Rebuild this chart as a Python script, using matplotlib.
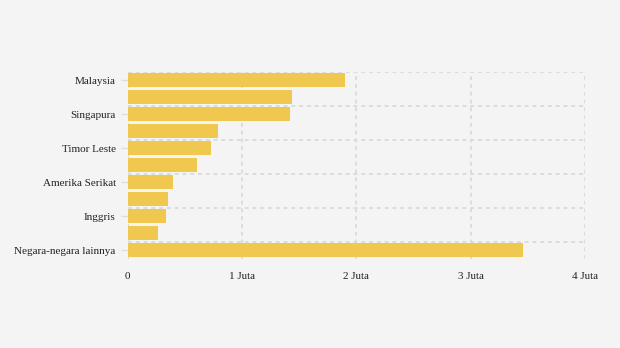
import matplotlib.pyplot as plt
import numpy as np

# Negara asal wisatawan (nilai dalam juta)
negara = ['Malaysia', 'Australia', 'Singapura', 'Tiongkok', 'Timor Leste', 'India',
          'Amerika Serikat', 'Jepang', 'Inggris', 'Korea Selatan', 'Negara-negara lainnya']
jumlah = [1.90, 1.44, 1.42, 0.79, 0.73, 0.61, 0.40, 0.35, 0.34, 0.27, 3.46]
x_ticks = [0, 1, 2, 3, 4]
x_labels = ['0', '1 Juta', '2 Juta', '3 Juta', '4 Juta']

bg = '#f4f4f4'
bar_color = '#f1c84f'
grid_color = '#dcdcdc'

fig = plt.figure(figsize=(6.2, 3.48), dpi=100, facecolor=bg)
ax = fig.add_axes([127.5 / 620, 1 - 258.5 / 348, (585 - 127.5) / 620, (258.5 - 71.5) / 348])
ax.set_facecolor(bg)

y = np.arange(len(negara))
ax.barh(y, jumlah, height=0.82, color=bar_color, zorder=2)

ax.set_xlim(0, 4)
ax.set_ylim(len(negara) - 0.5, -0.5)

# garis bantu
for xv in x_ticks:
    ax.axvline(xv, color=grid_color, lw=1.4, ls=(0, (2, 2)), zorder=1)
for yv in np.arange(-0.5, len(negara) - 1, 2):
    ax.axhline(yv, color=grid_color, lw=1.4, ls=(0, (2, 2)), zorder=1)

for s in ax.spines.values():
    s.set_visible(False)

ax.set_yticks(y[::2])
ax.set_yticklabels(negara[::2], family='Liberation Serif', fontsize=8, color='#222222')
ax.tick_params(axis='y', length=5, color='#dddddd', width=1, pad=3.5)

ax.set_xticks(x_ticks)
ax.set_xticklabels(x_labels, family='Liberation Serif', fontsize=8, color='#222222')
ax.tick_params(axis='x', length=0, pad=10)

fig.savefig('out.png', dpi=100, facecolor=bg)
